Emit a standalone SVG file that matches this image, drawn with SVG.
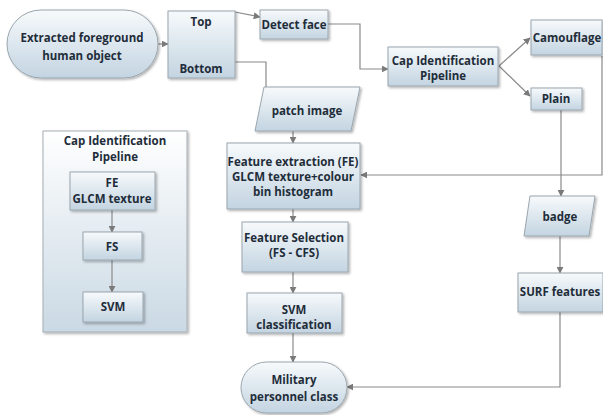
<svg xmlns="http://www.w3.org/2000/svg" width="603" height="415" viewBox="0 0 603 415">
<defs>
<linearGradient id="g" x1="0" y1="0" x2="0" y2="1">
<stop offset="0" stop-color="#f7fafc"/>
<stop offset="1" stop-color="#c3d4e1"/>
</linearGradient>
<linearGradient id="gc" x1="0" y1="0" x2="0" y2="1">
<stop offset="0" stop-color="#ffffff"/>
<stop offset="1" stop-color="#cad9e4"/>
</linearGradient>
<filter id="sh" x="-10%" y="-10%" width="130%" height="130%">
<feDropShadow dx="1.5" dy="1.5" stdDeviation="1" flood-color="#000" flood-opacity="0.3"/>
</filter>
<marker id="ar" viewBox="0 0 10 10" refX="9" refY="5" markerWidth="7" markerHeight="7" markerUnits="userSpaceOnUse" orient="auto">
<path d="M0,0 L10,5 L0,10 z" fill="#7a7a7a"/>
</marker>
</defs>
<style>
.n{fill:url(#g);stroke:#9aa6ae;stroke-width:1;filter:url(#sh)}
.c{fill:url(#gc);stroke:#a4adb4;stroke-width:1;filter:url(#sh)}
.t{font-family:"Open Sans","Noto Sans",sans-serif;font-weight:700;font-size:11.5px;fill:#1f2d3a;text-anchor:middle}
.e{fill:none;stroke:#8a8a8a;stroke-width:1.2;marker-end:url(#ar)}
.p{fill:none;stroke:#8a8a8a;stroke-width:1.2}
</style>
<rect width="603" height="415" fill="#ffffff"/>

<g id="legend">
<rect class="c" x="43" y="131" width="144" height="201"/>
<text class="t" x="115" y="145">Cap Identification</text>
<text class="t" x="115" y="161">Pipeline</text>
</g>

<g id="connectors">
<path class="e" d="M158,44 L168,44"/>
<path class="e" d="M235,12 L260,17"/>
<path class="p" d="M235,62 L266,62 L266,88"/>
<path class="e" d="M328,24 L360,24 L360,69 L388,69"/>
<path class="e" d="M499,66 L530,38"/>
<path class="e" d="M499,66 L530,96"/>
<path class="e" d="M561,110 L561,196"/>
<path class="e" d="M602,56 L602,175 L361,175"/>
<path class="e" d="M293,131 L293,143"/>
<path class="e" d="M293,209 L293,222"/>
<path class="e" d="M293,272 L293,293"/>
<path class="e" d="M293,333 L293,362"/>
<path class="e" d="M560,236 L560,273"/>
<path class="e" d="M560,312 L560,387 L347,387"/>
<path class="e" d="M112,210 L112,232"/>
<path class="e" d="M112,260 L112,292"/>
</g>

<g id="extracted">
<rect class="n" x="7" y="10" width="151" height="68" rx="34" ry="34"/>
<text class="t" x="82" y="42">Extracted foreground</text>
<text class="t" x="82" y="60">human object</text>
</g>
<g id="topbottom">
<rect class="n" x="168" y="11" width="67" height="67"/>
<text class="t" x="201" y="26">Top</text>
<text class="t" x="201" y="73">Bottom</text>
</g>
<g id="detectface">
<rect class="n" x="260" y="10" width="68" height="29"/>
<text class="t" x="294" y="29">Detect face</text>
</g>
<g id="patchimage">
<polygon class="n" points="264,87 360,87 351,131 255,131"/>
<text class="t" x="307" y="115">patch image</text>
</g>
<g id="cappipeline">
<rect class="n" x="388" y="47" width="110" height="39"/>
<text class="t" x="443" y="65">Cap Identification</text>
<text class="t" x="443" y="80">Pipeline</text>
</g>
<g id="camouflage">
<rect class="n" x="531" y="20" width="71" height="35"/>
<text class="t" x="567" y="42">Camouflage</text>
</g>
<g id="plain">
<rect class="n" x="531" y="88" width="51" height="22"/>
<text class="t" x="556" y="103">Plain</text>
</g>
<g id="fe">
<rect class="n" x="227" y="143" width="133" height="66"/>
<text class="t" x="293" y="166">Feature extraction (FE)</text>
<text class="t" x="293" y="181">GLCM texture+colour</text>
<text class="t" x="293" y="196">bin histogram</text>
</g>
<g id="fs">
<rect class="n" x="242" y="222" width="106" height="50"/>
<text class="t" x="294" y="242">Feature Selection</text>
<text class="t" x="294" y="257">(FS - CFS)</text>
</g>
<g id="svmclass">
<rect class="n" x="247" y="293" width="95" height="40"/>
<text class="t" x="294" y="314">SVM</text>
<text class="t" x="294" y="329">classification</text>
</g>
<g id="military">
<rect class="n" x="241" y="362" width="106" height="51" rx="25.5" ry="25.5"/>
<text class="t" x="294" y="384">Military</text>
<text class="t" x="294" y="401">personnel class</text>
</g>
<g id="badge">
<polygon class="n" points="530,196 595,196 589,236 524,236"/>
<text class="t" x="560" y="221">badge</text>
</g>
<g id="surf">
<rect class="n" x="518" y="273" width="85" height="39"/>
<text class="t" x="560" y="296">SURF features</text>
</g>
<g id="legend-fe">
<rect class="n" x="70" y="172" width="85" height="38"/>
<text class="t" x="112" y="187">FE</text>
<text class="t" x="112" y="203">GLCM texture</text>
</g>
<g id="legend-fs">
<rect class="n" x="83" y="232" width="59" height="28"/>
<text class="t" x="112" y="251">FS</text>
</g>
<g id="legend-svm">
<rect class="n" x="83" y="292" width="60" height="30"/>
<text class="t" x="113" y="311">SVM</text>
</g>
</svg>
